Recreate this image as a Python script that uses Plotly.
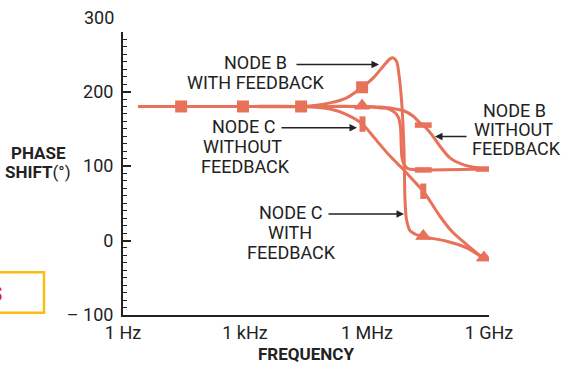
import plotly.graph_objects as go

# ---------------- data (log10 of frequency in Hz, phase in degrees) ----------------
# NODE B WITH FEEDBACK (peaking curve)
b_fb_logf = [0.37, 1.43, 2.95, 4.38, 5.09, 5.50, 5.88, 6.154, 6.40, 6.565, 6.646,
             6.73, 6.786, 6.848, 6.885, 6.909, 6.922, 6.934, 6.971, 7.057, 7.204,
             7.384, 7.959, 8.45, 8.876]
b_fb_phase = [180, 180, 180, 180, 184.8, 191.5, 205.8, 218.4, 234, 243.9, 245.2,
              240.3, 222.8, 189.3, 155.7, 122.1, 88.6, 55, 28.2, 13.4, 8.1,
              5, -0.9, -9.8, -24.2]

# NODE C WITH FEEDBACK
c_fb_logf = [0.37, 1.43, 2.95, 4.38, 5.88, 6.32, 6.523, 6.688, 6.774, 6.823, 6.84,
             6.86, 6.909, 7.008, 7.138, 7.384, 8.876]
c_fb_phase = [180, 180, 180, 180, 180, 178.1, 176.8, 171.8, 165.1, 151.7, 128.9,
              111.4, 102, 96.6, 95.3, 94.8, 96]

# NODE B WITHOUT FEEDBACK
b_nofb_logf = [0.37, 1.43, 2.95, 4.38, 5.88, 6.32, 6.565, 6.934, 7.138, 7.303,
               7.384, 7.59, 7.795, 8.04, 8.367, 8.876]
b_nofb_phase = [180, 180, 180, 180, 180, 179.2, 177.9, 173.6, 166.8, 158,
                155, 142.3, 126.6, 111, 102, 96.2]

# NODE C WITHOUT FEEDBACK
c_nofb_logf = [0.37, 1.43, 2.95, 4.38, 5.09, 5.50, 5.889, 6.073, 6.319, 6.565,
               6.872, 7.131, 7.384, 7.573, 7.795, 8.09, 8.451, 8.876]
c_nofb_phase = [180, 180, 180, 180, 176.5, 169.1, 156.4, 145, 128.9, 113.4,
                96.6, 81.2, 66.2, 51, 32.6, 12.1, -5.4, -24.6]

# markers
big_sq_logf = [1.43, 2.95, 4.38, 5.88]
big_sq_phase = [180, 180, 180, 205.8]
tri_logf = [5.88, 7.384, 8.876]
tri_phase = [181, 6, -23]
hbar_logf = [7.384, 7.384, 8.876]
hbar_phase = [94.8, 155, 96]
vbar_logf = [5.889, 7.384]
vbar_phase = [156.4, 66.2]

x_tick_logf = [0, 3, 6, 9]
x_tick_text = ["1 Hz", "1 kHz", "1 MHz", "1 GHz"]
y_tick_vals = [-100, 0, 100, 200]
y_tick_text = ["\u2013 100", "0", "100", "200"]

# ---------------- styling ----------------
LINE = "#E8715A"
INK = "#222222"
FONT = "Roboto"
NARROW = "Liberation Sans Narrow, Roboto"

def hz(arr):
    return [10 ** v for v in arr]

# pixel -> paper helpers (plot area 123..489 x 32.4..315.5)
X0, W, Y0, H = 123, 366, 315.5, 283.1
def px(x):
    return (x - X0) / W
def py(y):
    return (Y0 - y) / H

fig = go.Figure()
for lx, ly in [(b_nofb_logf, b_nofb_phase), (c_nofb_logf, c_nofb_phase),
               (c_fb_logf, c_fb_phase), (b_fb_logf, b_fb_phase)]:
    fig.add_trace(go.Scatter(x=hz(lx), y=ly, mode="lines",
                             line=dict(color=LINE, width=3, shape="spline", smoothing=0.8),
                             hoverinfo="skip", showlegend=False))

fig.add_trace(go.Scatter(x=hz(big_sq_logf), y=big_sq_phase, mode="markers",
                         marker=dict(symbol="square", size=12, color=LINE, line=dict(width=0)),
                         showlegend=False))
fig.add_trace(go.Scatter(x=hz(tri_logf), y=tri_phase, mode="markers",
                         marker=dict(symbol="triangle-up", size=13, color=LINE,
                                     line=dict(width=1, color=LINE)),
                         showlegend=False))
fig.add_trace(go.Scatter(x=hz(hbar_logf), y=hbar_phase, mode="markers",
                         marker=dict(symbol="line-ew", size=12, color=LINE,
                                     line=dict(width=5.5, color=LINE)),
                         showlegend=False))
fig.add_trace(go.Scatter(x=hz(vbar_logf), y=vbar_phase, mode="markers",
                         marker=dict(symbol="line-ns", size=11, color=LINE,
                                     line=dict(width=6, color=LINE)),
                         showlegend=False))

text_lines = [
    ("NODE B", 255.4, 63.3), ("WITH FEEDBACK", 255.5, 82.7),
    ("NODE C", 243, 126.7), ("WITHOUT", 242.5, 146.7), ("FEEDBACK", 245.3, 166.7),
    ("NODE B", 514.2, 111.2), ("WITHOUT", 513.8, 130), ("FEEDBACK", 516.7, 149.3),
    ("NODE C", 290.2, 213.3), ("WITH", 290, 233.3), ("FEEDBACK", 291.7, 253.3),
]
annotations = []
for t, x, y in text_lines:
    annotations.append(dict(text=t, xref="paper", yref="paper", x=px(x), y=py(y),
                            xanchor="center", yanchor="middle", showarrow=False,
                            font=dict(family=FONT, size=18, color=INK)))

for t, x, y in [("<b>PHASE</b>", 38.5, 153.7), ("<b>SHIFT</b>(\u00b0)", 38, 172.2),
                ("<b>FREQUENCY</b>", 306, 355)]:
    annotations.append(dict(text=t, xref="paper", yref="paper", x=px(x), y=py(y),
                            xanchor="center", yanchor="middle", showarrow=False,
                            font=dict(family=NARROW, size=17, color=INK)))

# 300 label above the axis end
annotations.append(dict(text="300", xref="paper", yref="paper", x=px(116), y=py(17.5),
                        xanchor="right", yanchor="middle", showarrow=False,
                        font=dict(family=FONT, size=18, color=INK)))

# arrows (head, tail in pixels)
for hx, hy, tx, ty in [(379, 65, 295, 65), (357, 128.3, 280, 128.3),
                       (435, 137, 468, 137), (404, 214.5, 327, 214.5)]:
    annotations.append(dict(text="", xref="paper", yref="paper", x=px(hx), y=py(hy),
                            ax=tx - hx, ay=ty - hy, showarrow=True, arrowhead=2,
                            arrowsize=1, arrowwidth=1.5, arrowcolor=INK, standoff=0))

# cropped neighbouring element at the left edge (as in the reference)
annotations.append(dict(text="<b>S</b>", xref="paper", yref="paper", x=px(3.5), y=py(294),
                        xanchor="right", yanchor="middle", showarrow=False,
                        font=dict(family=FONT, size=20, color="#E3202A")))

shapes = [dict(type="rect", xref="paper", yref="paper", x0=px(-10), x1=px(44),
               y0=py(313.3), y1=py(272.7), line=dict(color="#FDBB16", width=2.5),
               fillcolor="rgba(0,0,0,0)", layer="above")]

fig.update_layout(
    width=563, height=365,
    margin=dict(l=X0, r=563 - X0 - W, t=Y0 - H, b=365 - Y0),
    paper_bgcolor="white", plot_bgcolor="white",
    annotations=annotations, shapes=shapes,
    xaxis=dict(type="log", range=[0, 9], tickvals=hz(x_tick_logf), ticktext=x_tick_text,
               showgrid=False, zeroline=False, showline=True, linecolor=INK, linewidth=2,
               ticks="", tickfont=dict(family=FONT, size=18, color=INK)),
    yaxis=dict(range=[-100, 280], tickvals=y_tick_vals, ticktext=y_tick_text,
               showgrid=False, zeroline=False, showline=True, linecolor=INK, linewidth=2,
               ticks="inside", ticklen=8, tickwidth=1.5, tickcolor=INK,
               ticklabelstandoff=4,
               minor=dict(dtick=10, ticks="inside", ticklen=4, tickwidth=1.2, tickcolor=INK,
                          showgrid=False),
               tickfont=dict(family=FONT, size=18, color=INK)),
)

fig.write_html("out.html")
